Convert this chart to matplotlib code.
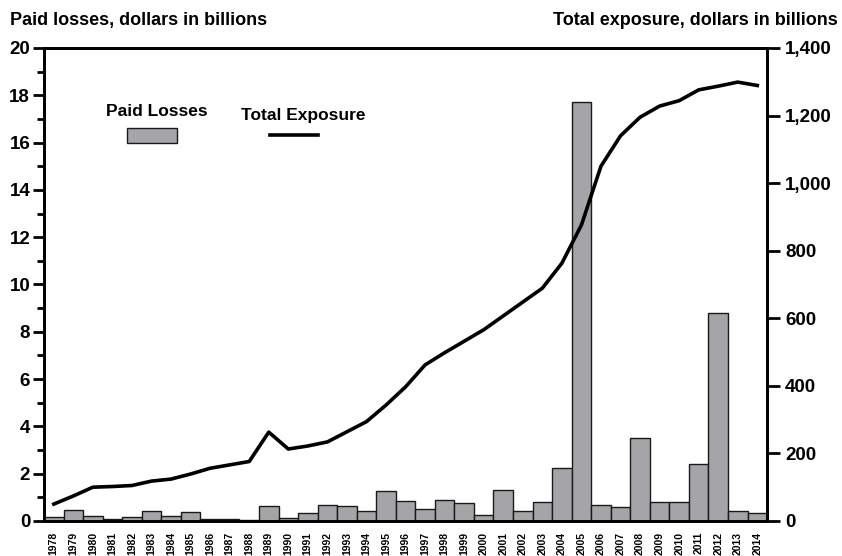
import matplotlib
matplotlib.use('Agg')
import matplotlib.pyplot as plt
from matplotlib.patches import Rectangle
from matplotlib.lines import Line2D
from matplotlib.ticker import MultipleLocator, FuncFormatter

plt.rcParams['font.family'] = ['Liberation Sans', 'DejaVu Sans']
plt.rcParams['font.weight'] = 'bold'

years = list(range(1978, 2015))
paid_losses = [0.15, 0.45, 0.22, 0.10, 0.18, 0.42, 0.22, 0.36, 0.09, 0.09,
               0.05, 0.64, 0.14, 0.32, 0.69, 0.64, 0.42, 1.28, 0.83, 0.52,
               0.87, 0.75, 0.24, 1.30, 0.42, 0.79, 2.24, 17.7, 0.66, 0.61,
               3.49, 0.79, 0.79, 2.41, 8.8, 0.42, 0.34]
total_exposure = [50, 74, 100, 102, 105, 118, 124, 139, 156, 166,
                  176, 263, 213, 222, 234, 264, 294, 343, 397, 462,
                  498, 532, 566, 607, 648, 689, 763, 876, 1050, 1140,
                  1195, 1228, 1244, 1276, 1287, 1299, 1289]

fig = plt.figure(figsize=(8.42, 5.56), dpi=100)
ax = fig.add_axes([0.0523, 0.063, 0.8587, 0.8507])
ax2 = ax.twinx()

x = list(range(len(years)))
ax.bar(x, paid_losses, width=1.0, color='#a5a5a7', edgecolor='#1a1a1a', linewidth=1.0, zorder=2)
ax2.plot(x, total_exposure, color='black', linewidth=2.6, zorder=3)

ax.set_xlim(-0.5, len(years) - 0.5)
ax.set_ylim(0, 20)
ax2.set_ylim(0, 1400)

ax.yaxis.set_major_locator(MultipleLocator(2))
ax.yaxis.set_minor_locator(MultipleLocator(1))
ax2.yaxis.set_major_locator(MultipleLocator(200))
ax2.yaxis.set_major_formatter(FuncFormatter(lambda v, p: f"{int(v):,}"))

ax.set_xticks(x)
ax.set_xticklabels([str(y) for y in years], rotation=90, fontsize=7.5, fontweight='bold')
ax.tick_params(axis='x', length=0, pad=8)
ax.tick_params(axis='y', which='major', length=8, width=2, labelsize=13.5, pad=2)
ax.tick_params(axis='y', which='minor', length=5, width=2)
ax2.tick_params(axis='y', which='major', length=9, width=2, labelsize=13.5, pad=4)

for a in (ax, ax2):
    for s in a.spines.values():
        s.set_linewidth(2)
for lbl in ax.get_yticklabels() + ax2.get_yticklabels():
    lbl.set_fontweight('bold')

# legend drawn by hand, text above its key
ax.text(0.156, 0.865, "Paid Losses", transform=ax.transAxes, ha='center', va='center', fontsize=12.5)
ax.add_patch(Rectangle((0.115, 0.799), 0.069, 0.032, transform=ax.transAxes,
                       facecolor='#a5a5a7', edgecolor='#1a1a1a', linewidth=1.0, clip_on=False))
ax.text(0.358, 0.858, "Total Exposure", transform=ax.transAxes, ha='center', va='center', fontsize=12.5)
ax.add_line(Line2D([0.313, 0.379], [0.816, 0.816], transform=ax.transAxes, color='black', linewidth=2.6))

fig.text(0.012, 0.963, "Paid losses, dollars in billions", ha='left', va='center', fontsize=13)
fig.text(0.995, 0.963, "Total exposure, dollars in billions", ha='right', va='center', fontsize=13)

fig.savefig("out.png", dpi=100)
